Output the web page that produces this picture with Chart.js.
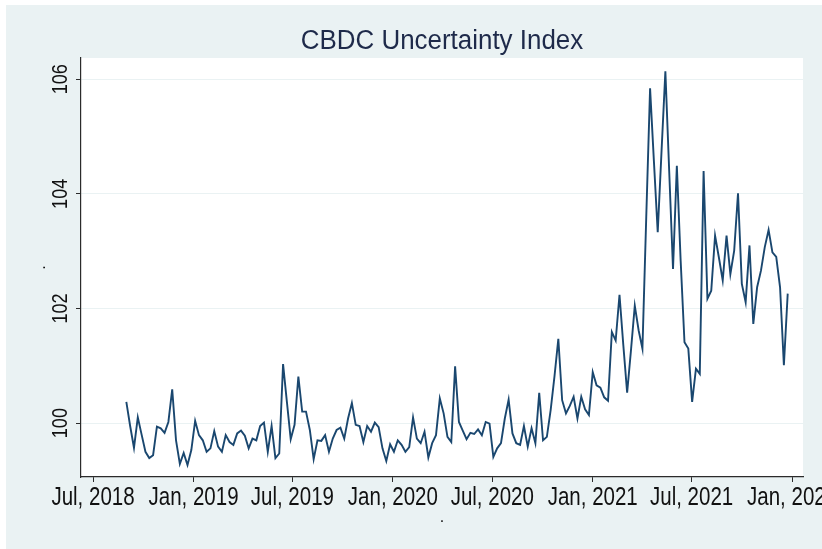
<!DOCTYPE html>
<html>
<head>
<meta charset="utf-8">
<title>CBDC Uncertainty Index</title>
<script src="https://cdn.jsdelivr.net/npm/chart.js@4.4.1/dist/chart.umd.min.js"></script>
<style>
  html, body { margin: 0; padding: 0; background: #fff; }
  canvas { display: block; }
</style>
</head>
<body>
<canvas id="chart" width="822" height="549"></canvas>
<script>
// Weekly CBDC uncertainty index, Stata s2color look (ltbluishgray region, navy line).

const COLORS = {
  region: '#eaf2f3',
  plot: '#ffffff',
  grid: '#eaf2f3',
  axis: '#2b2b2b',
  text: '#111111',
  title: '#1e2a4a',
  line: '#1a476f',
};

const FONT_FAMILY = '"Liberation Sans", Arial, sans-serif';
const TITLE_TEXT = 'CBDC Uncertainty Index';
const TITLE_SIZE = 27;
const TICK_SIZE_X = 25;
const TICK_SIZE_Y = 22;
const NARROW = 0.82;   // horizontal squeeze for the narrow tick labels

// first observation, then one value per week
const START_DATE = '2018-08-31';
const INDEX_VALUES = [
  100.37, 99.95, 99.57, 100.10, 99.80, 99.50, 99.39, 99.44, 99.94, 99.91,
  99.83, 100.02, 100.59, 99.70, 99.29, 99.48, 99.27, 99.53, 100.04, 99.79,
  99.70, 99.50, 99.56, 99.86, 99.59, 99.50, 99.79, 99.67, 99.62, 99.82,
  99.87, 99.78, 99.56, 99.73, 99.70, 99.95, 100.01, 99.50, 99.95, 99.39,
  99.47, 101.03, 100.37, 99.72, 99.97, 100.81, 100.20, 100.20, 99.88, 99.37,
  99.70, 99.69, 99.79, 99.50, 99.73, 99.88, 99.92, 99.73, 100.08, 100.35,
  99.97, 99.95, 99.67, 99.95, 99.85, 100.01, 99.93, 99.56, 99.34, 99.63,
  99.50, 99.70, 99.62, 99.50, 99.58, 100.10, 99.73, 99.65, 99.85, 99.40,
  99.65, 99.79, 100.43, 100.17, 99.76, 99.67, 100.99, 100.02, 99.87, 99.72,
  99.83, 99.81, 99.89, 99.79, 100.02, 99.99, 99.41, 99.56, 99.65, 100.08,
  100.41, 99.82, 99.65, 99.62, 99.95, 99.59, 99.91, 99.65, 100.53, 99.70,
  99.76, 100.23, 100.82, 101.47, 100.40, 100.17, 100.30, 100.46, 100.08, 100.46,
  100.24, 100.14, 100.89, 100.66, 100.62, 100.45, 100.39, 101.59, 101.44, 102.24,
  101.36, 100.53, 101.27, 102.05, 101.62, 101.30, 103.60, 105.84, 104.57, 103.33,
  104.75, 106.14, 104.40, 102.69, 104.49, 102.83, 101.41, 101.30, 100.37, 100.95,
  100.86, 104.40, 102.17, 102.31, 103.27, 102.89, 102.49, 103.27, 102.60, 103.01,
  104.01, 102.43, 102.11, 103.10, 101.73, 102.37, 102.66, 103.07, 103.37, 102.98,
  102.90, 102.37, 101.01, 102.26,
];

const X_MIN = '2018-06-09';
const X_MAX = '2022-01-21';
const X_TICK_DATES = [
  '2018-07-01', '2019-01-01', '2019-07-01', '2020-01-01',
  '2020-07-01', '2021-01-01', '2021-07-01', '2022-01-01',
];
const X_TICK_LABELS = [
  'Jul, 2018', 'Jan, 2019', 'Jul, 2019', 'Jan, 2020',
  'Jul, 2020', 'Jan, 2021', 'Jul, 2021', 'Jan, 2022',
];

const Y_MIN = 99.06;
const Y_MAX = 106.37;
const Y_TICKS = [100, 102, 104, 106];

const DAY_MS = 86400000;
function toDay(iso) {
  return Date.parse(iso + 'T00:00:00Z') / DAY_MS;
}

const start = toDay(START_DATE);
const points = INDEX_VALUES.map((v, i) => ({ x: start + i * 7, y: v }));

// light-blue graph region with a white plot region inside
const regionBackground = {
  id: 'regionBackground',
  beforeDraw(chart) {
    const { ctx, chartArea: a, width, height } = chart;
    ctx.save();
    ctx.fillStyle = '#ffffff';
    ctx.fillRect(0, 0, width, height);
    ctx.fillStyle = COLORS.region;
    ctx.fillRect(6, 5, width - 6, height - 5);
    ctx.fillStyle = COLORS.plot;
    ctx.fillRect(a.left, a.top, a.right - a.left, a.bottom - a.top);
    ctx.restore();
  },
};

// title centred over the plot region; Stata-style narrow tick labels,
// y labels running bottom-to-top
const stataText = {
  id: 'stataText',
  afterDraw(chart) {
    const { ctx, chartArea: a } = chart;
    const x = chart.scales.x;
    const y = chart.scales.y;
    ctx.save();
    ctx.textAlign = 'center';
    ctx.textBaseline = 'alphabetic';

    ctx.fillStyle = COLORS.title;
    ctx.font = TITLE_SIZE + 'px ' + FONT_FAMILY;
    ctx.save();
    ctx.translate((a.left + a.right) / 2, 49);
    ctx.scale(0.96, 1);
    ctx.fillText(TITLE_TEXT, 0, 0);
    ctx.restore();

    ctx.fillStyle = COLORS.text;
    ctx.font = TICK_SIZE_X + 'px ' + FONT_FAMILY;
    x.ticks.forEach((t, i) => {
      ctx.save();
      ctx.translate(x.getPixelForValue(t.value), 505);
      ctx.scale(NARROW, 1);
      ctx.fillText(X_TICK_LABELS[i], 0, 0);
      ctx.restore();
    });

    ctx.font = TICK_SIZE_Y + 'px ' + FONT_FAMILY;
    y.ticks.forEach(t => {
      ctx.save();
      ctx.translate(67, y.getPixelForValue(t.value));
      ctx.rotate(-Math.PI / 2);
      ctx.scale(NARROW, 1);
      ctx.fillText(String(t.value), 0, 0);
      ctx.restore();
    });
    ctx.restore();
  },
};

new Chart(document.getElementById('chart'), {
  type: 'line',
  data: {
    datasets: [{
      label: TITLE_TEXT,
      data: points,
      borderColor: COLORS.line,
      borderWidth: 1.9,
      pointRadius: 0,
      tension: 0,
      fill: false,
    }],
  },
  options: {
    responsive: false,
    animation: false,
    layout: { padding: { left: 0, right: 19, top: 58, bottom: 0 } },
    plugins: {
      legend: { display: false },
      tooltip: { enabled: false },
      title: { display: false },
    },
    scales: {
      x: {
        type: 'linear',
        bounds: 'data',
        min: toDay(X_MIN),
        max: toDay(X_MAX),
        afterBuildTicks: s => { s.ticks = X_TICK_DATES.map(d => ({ value: toDay(d) })); },
        afterFit: s => { s.height = 72; s.paddingLeft = 0; s.paddingRight = 0; },
        ticks: { display: false },
        grid: { drawOnChartArea: false, drawTicks: true, tickLength: 5, tickColor: COLORS.axis },
        border: { color: COLORS.axis, width: 1.2 },
        title: {
          display: true,
          text: '.',
          color: COLORS.text,
          font: { family: FONT_FAMILY, size: 16 },
          padding: { top: 0, bottom: 22 },
        },
      },
      y: {
        type: 'linear',
        bounds: 'data',
        min: Y_MIN,
        max: Y_MAX,
        afterBuildTicks: s => { s.ticks = Y_TICKS.map(v => ({ value: v })); },
        afterFit: s => { s.width = 81; s.paddingTop = 0; s.paddingBottom = 0; },
        ticks: { display: false },
        grid: { color: COLORS.grid, lineWidth: 1, drawTicks: true, tickLength: 5, tickColor: COLORS.axis },
        border: { color: COLORS.axis, width: 1.2 },
        title: {
          display: true,
          text: '.',
          color: COLORS.text,
          font: { family: FONT_FAMILY, size: 16 },
          padding: { top: 31, bottom: 0 },
        },
      },
    },
  },
  plugins: [regionBackground, stataText],
});
</script>
</body>
</html>
